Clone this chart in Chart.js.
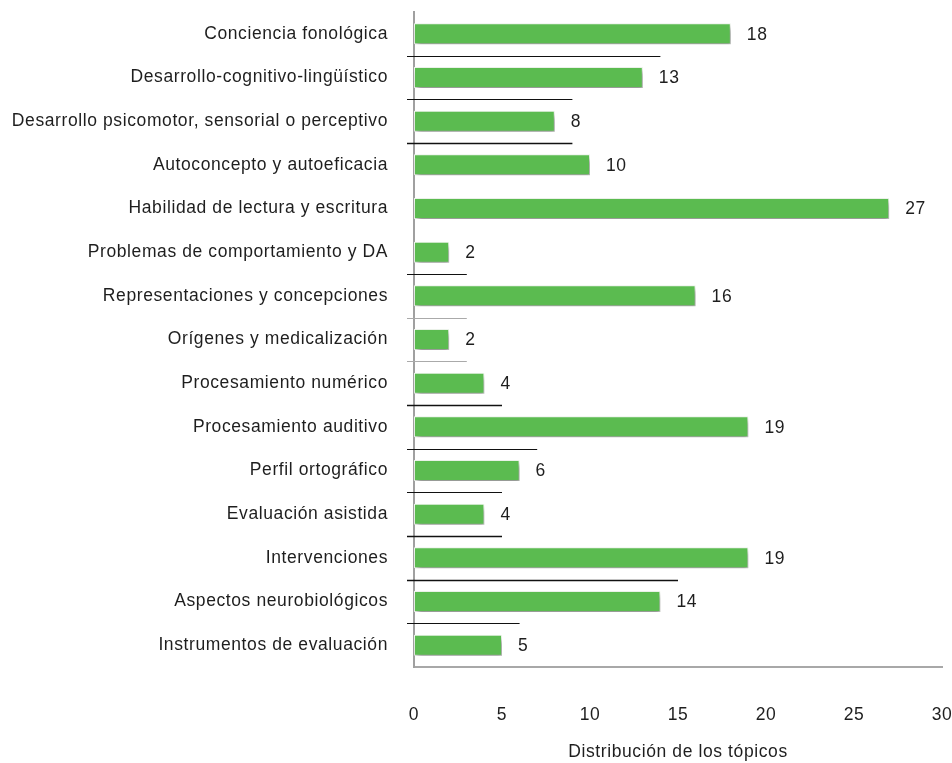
<!DOCTYPE html>
<html>
<head>
<meta charset="utf-8">
<script src="https://cdn.jsdelivr.net/npm/chart.js@4/dist/chart.umd.min.js"></script>
<style>
  html, body { margin: 0; padding: 0; background: #fff; }
  #wrap { width: 952px; height: 763px; position: relative; }
</style>
</head>
<body>
<div id="wrap"><canvas id="c"></canvas></div>
<script>
const categories = [
  "Conciencia fonológica",
  "Desarrollo-cognitivo-lingüístico",
  "Desarrollo psicomotor, sensorial o perceptivo",
  "Autoconcepto y autoeficacia",
  "Habilidad de lectura y escritura",
  "Problemas de comportamiento y DA",
  "Representaciones y concepciones",
  "Orígenes y medicalización",
  "Procesamiento numérico",
  "Procesamiento auditivo",
  "Perfil ortográfico",
  "Evaluación asistida",
  "Intervenciones",
  "Aspectos neurobiológicos",
  "Instrumentos de evaluación"
];
const values = [18, 13, 8, 10, 27, 2, 16, 2, 4, 19, 6, 4, 19, 14, 5];
const xTicks = [0, 5, 10, 15, 20, 25, 30];
const axisTitle = "Distribución de los tópicos";
// stray separator strokes between categories (end value on x scale), null = none
const separatorEnds = [14, 9, 9, null, null, 3, 3, 3, 5, 7, 5, 5, 15, 6];
const separatorTone = ["k", "k", "K", null, null, "k", "g", "g", "K", "k", "k", "K", "K", "k"];

const FONT = "'Liberation Sans', Arial, Helvetica, sans-serif";
const FS = 17.5;
const SPACING = '0.6px';

const spacingPlugin = {
  id: 'spacing',
  beforeInit(chart) { chart.ctx.letterSpacing = SPACING; },
  beforeUpdate(chart) { chart.ctx.letterSpacing = SPACING; },
  beforeDraw(chart) { chart.ctx.letterSpacing = SPACING; }
};

const shadowPlugin = {
  id: 'barShadow',
  beforeDatasetsDraw(chart) {
    const ctx = chart.ctx;
    ctx.save();
    ctx.shadowColor = 'rgba(0,0,0,0.4)';
    ctx.shadowBlur = 5;
    ctx.shadowOffsetX = 2;
    ctx.shadowOffsetY = 4;
  },
  afterDatasetsDraw(chart) {
    chart.ctx.restore();
  }
};

const labelPlugin = {
  id: 'valueLabels',
  afterDatasetsDraw(chart) {
    const ctx = chart.ctx;
    const meta = chart.getDatasetMeta(0);
    ctx.save();
    ctx.font = FS + "px " + FONT;
    ctx.letterSpacing = SPACING;
    ctx.fillStyle = '#1e1e1e';
    ctx.textAlign = 'left';
    ctx.textBaseline = 'middle';
    meta.data.forEach((bar, i) => {
      ctx.fillText(String(values[i]), bar.x + 16, bar.y + 1);
    });
    ctx.restore();
  }
};

const separatorPlugin = {
  id: 'separators',
  afterDraw(chart) {
    const ctx = chart.ctx;
    const xs = chart.scales.x, ys = chart.scales.y;
    ctx.save();
    separatorEnds.forEach((v, i) => {
      if (v === null) return;
      const y = (ys.getPixelForValue(i) + ys.getPixelForValue(i + 1)) / 2;
      const tone = separatorTone[i];
      ctx.strokeStyle = tone === 'g' ? '#aaaaaa' : '#111';
      ctx.lineWidth = tone === 'K' ? 1.6 : 1;
      ctx.beginPath();
      ctx.moveTo(xs.left - 7, Math.round(y) + 0.5);
      ctx.lineTo(xs.getPixelForValue(v), Math.round(y) + 0.5);
      ctx.stroke();
    });
    ctx.restore();
  }
};

new Chart(document.getElementById('c'), {
  type: 'bar',
  data: {
    labels: categories,
    datasets: [{
      data: values,
      backgroundColor: '#5bbb50',
      borderColor: '#eef5ec',
      borderWidth: 1,
      borderSkipped: false,
      barPercentage: 0.48,
      categoryPercentage: 1.0
    }]
  },
  options: {
    indexAxis: 'y',
    responsive: true,
    maintainAspectRatio: false,
    animation: false,
    layout: { padding: { left: 0, right: 10, top: 12, bottom: 0 } },
    plugins: {
      legend: { display: false },
      tooltip: { enabled: false }
    },
    scales: {
      x: {
        min: 0, max: 30,
        afterBuildTicks(scale) { scale.ticks = xTicks.map(v => ({ value: v })); },
        afterFit(scale) {
          scale.height = 96;
          scale.paddingLeft = 0;
          scale.paddingRight = 0;
        },
        grid: { display: false, drawTicks: false },
        border: { display: true, color: '#a8a8a8', width: 2 },
        ticks: {
          padding: 38,
          color: '#1e1e1e',
          font: { family: FONT, size: FS },
          maxRotation: 0
        },
        title: {
          display: true,
          text: axisTitle,
          color: '#1e1e1e',
          font: { family: FONT, size: FS },
          padding: { top: 0, bottom: 0 }
        }
      },
      y: {
        afterFit(scale) {
          scale.width = 414;
          scale.paddingTop = 0;
          scale.paddingBottom = 0;
        },
        grid: { display: false, drawTicks: false },
        border: { display: true, color: '#a0a0a0', width: 2 },
        ticks: {
          padding: 26,
          color: '#1e1e1e',
          font: { family: FONT, size: FS },
          autoSkip: false
        }
      }
    }
  },
  plugins: [spacingPlugin, shadowPlugin, labelPlugin, separatorPlugin]
});
</script>
</body>
</html>
